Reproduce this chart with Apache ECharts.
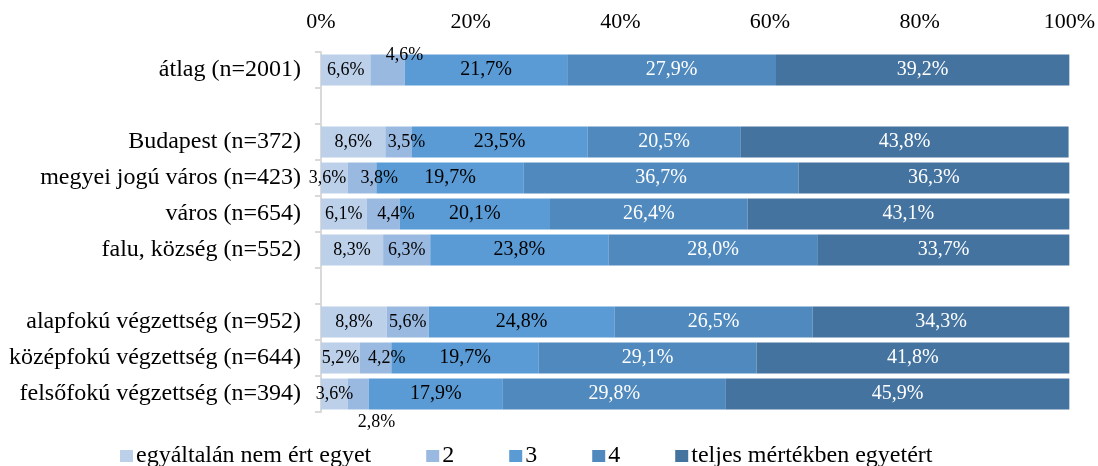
<!DOCTYPE html>
<html>
<head>
<meta charset="utf-8">
<script src="https://cdn.jsdelivr.net/npm/echarts@6/dist/echarts.min.js"></script>
<style>
html,body{margin:0;padding:0;background:#fff;}
#c{width:1098px;height:466px;}
</style>
</head>
<body>
<div id="c"></div>
<script>
const categories = ['átlag (n=2001)', ' ', 'Budapest (n=372)', 'megyei jogú város (n=423)', 'város (n=654)', 'falu, község (n=552)', '  ', 'alapfokú végzettség (n=952)', 'középfokú végzettség (n=644)', 'felsőfokú végzettség (n=394)'];
const seriesNames = ['egyáltalán nem ért egyet', '2', '3', '4', 'teljes mértékben egyetért'];
const s1 = [6.6, null, 8.6, 3.6, 6.1, 8.3, null, 8.8, 5.2, 3.6];
const s2 = [4.6, null, 3.5, 3.8, 4.4, 6.3, null, 5.6, 4.2, 2.8];
const s3 = [21.7, null, 23.5, 19.7, 20.1, 23.8, null, 24.8, 19.7, 17.9];
const s4 = [27.9, null, 20.5, 36.7, 26.4, 28.0, null, 26.5, 29.1, 29.8];
const s5 = [39.2, null, 43.8, 36.3, 43.1, 33.7, null, 34.3, 41.8, 45.9];
const xTicks = [0, 20, 40, 60, 80, 100];

const allValues = [s1, s2, s3, s4, s5];
const colors = ['#bcd0ea', '#9ab9e0', '#5b9bd5', '#4f89bd', '#44739f'];
const labelColors = ['#000', '#000', '#000', '#fff', '#fff'];
const labelSizes = [18, 18, 20, 20, 20];
const serif = '"Liberation Serif", "Times New Roman", serif';

// label nudges for crowded small segments (series index -> category index -> [dx, dy])
const specialOffsets = {
  0: {3: [-7, 0]},
  1: {0: [17, -15], 2: [8, 0], 3: [17, 0], 4: [13, 0], 8: [11, 0], 9: [18, 28]}
};

const series = allValues.map((vals, si) => ({
  name: seriesNames[si],
  type: 'bar',
  stack: 'total',
  barCategoryGap: '14%',
  itemStyle: {color: colors[si]},
  label: {
    show: true,
    position: 'inside',
    color: labelColors[si],
    fontFamily: serif,
    fontSize: labelSizes[si],
    formatter: p => p.value == null ? '' : p.value.toFixed(1).replace('.', ',') + '%'
  },
  data: vals.map((v, ci) => {
    const off = specialOffsets[si] && specialOffsets[si][ci];
    if (v == null) return '-';
    if (off) return {value: v, label: {offset: off}};
    return v;
  })
}));

const chart = echarts.init(document.getElementById('c'), null, {renderer: 'canvas'});
chart.setOption({
  animation: false,
  backgroundColor: '#fff',
  grid: {left: 321, right: 28, top: 52, bottom: 54},
  xAxis: {
    type: 'value',
    position: 'top',
    min: 0, max: 100, interval: 20,
    axisLine: {show: false},
    axisTick: {show: false},
    splitLine: {show: false},
    axisLabel: {
      margin: 19,
      fontFamily: serif, fontSize: 22, color: '#000',
      formatter: v => xTicks.includes(v) ? v + '%' : ''
    }
  },
  yAxis: {
    type: 'category',
    inverse: true,
    data: categories,
    axisLine: {show: true, lineStyle: {color: '#d9d9d9', width: 2}},
    axisTick: {show: true, length: 6, lineStyle: {color: '#d9d9d9', width: 2}},
    axisLabel: {margin: 20, fontFamily: serif, fontSize: 24, color: '#000'}
  },
  legend: {
    left: 115,
    top: 439,
    itemWidth: 13,
    itemHeight: 12,
    itemGap: 55,
    icon: 'rect',
    textStyle: {fontFamily: serif, fontSize: 24, color: '#000', padding: [0, 0, 0, -2]},
    data: seriesNames
  },
  series: series
});
</script>
</body>
</html>
